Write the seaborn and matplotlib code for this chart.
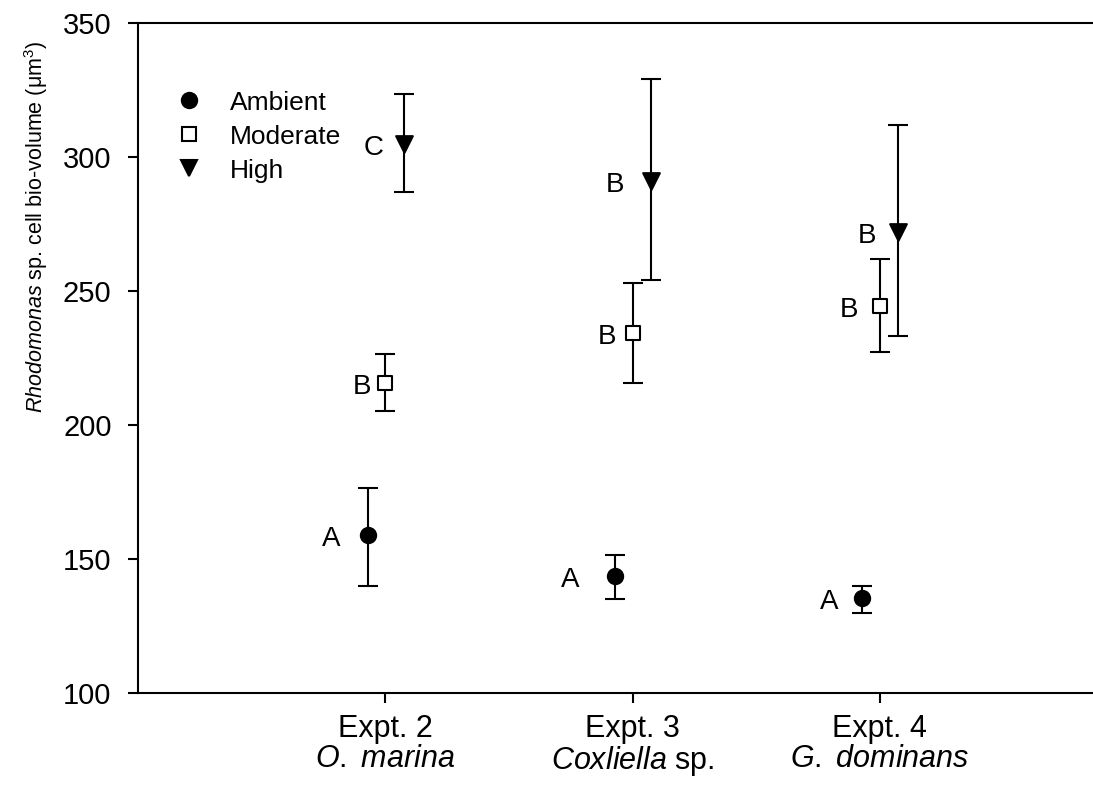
import numpy as np
import pandas as pd
import matplotlib
matplotlib.use("Agg")
import matplotlib.pyplot as plt
import seaborn as sns
from matplotlib.lines import Line2D

# ---- data ----
experiments = ["Expt. 2", "Expt. 3", "Expt. 4"]
species = [r"$\mathit{O.}$ $\mathit{marina}$", r"$\mathit{Coxliella}$ sp.", r"$\mathit{G.}$ $\mathit{dominans}$"]
treatments = ["Ambient", "Moderate", "High"]

ambient_mean = [159.0, 143.7, 135.6]
ambient_lo = [140.1, 135.0, 130.0]
ambient_hi = [176.6, 151.5, 140.0]

moderate_mean = [215.7, 234.5, 244.4]
moderate_lo = [205.2, 215.8, 227.1]
moderate_hi = [226.5, 253.0, 261.8]

high_mean = [305.0, 291.0, 272.0]
high_lo = [286.8, 254.1, 233.2]
high_hi = [323.4, 329.0, 312.0]

letters_ambient = ["A", "A", "A"]
letters_moderate = ["B", "B", "B"]
letters_high = ["C", "B", "B"]

# ---- layout / style ----
offsets = {"Ambient": -0.07, "Moderate": 0.0, "High": 0.075}
markers = {"Ambient": "o", "Moderate": "s", "High": "v"}
msize = {"Ambient": 11, "Moderate": 10, "High": 12}
faces = {"Ambient": "black", "Moderate": "white", "High": "black"}
letter_dx = {"Ambient": [-37, -45, -33], "Moderate": [-23, -25, -31], "High": [-30, -36, -31]}

sns.set_theme(style="ticks")
plt.rcParams["font.family"] = ["Liberation Sans", "DejaVu Sans"]
plt.rcParams["mathtext.fontset"] = "custom"
plt.rcParams["mathtext.rm"] = "Liberation Sans"
plt.rcParams["mathtext.it"] = "Liberation Sans:italic"
plt.rcParams["mathtext.bf"] = "Liberation Sans:bold"
for k in ["text.color", "axes.labelcolor", "xtick.color", "ytick.color", "axes.edgecolor"]:
    plt.rcParams[k] = "black"

rows = []
for t, m, lo, hi, lab in [
    ("Ambient", ambient_mean, ambient_lo, ambient_hi, letters_ambient),
    ("Moderate", moderate_mean, moderate_lo, moderate_hi, letters_moderate),
    ("High", high_mean, high_lo, high_hi, letters_high),
]:
    for i in range(len(experiments)):
        rows.append(dict(treatment=t, idx=i, exp=experiments[i], mean=m[i], lo=lo[i], hi=hi[i], letter=lab[i]))
df = pd.DataFrame(rows)
df["x"] = df["idx"] + 1 + df["treatment"].map(offsets)

W, H = 1093, 792
fig = plt.figure(figsize=(W / 100, H / 100), dpi=100)
ax = fig.add_axes([138 / W, (H - 693) / H, (1127 - 138) / W, 670 / H])

lw = 1.5
for t in treatments:
    sub = df[df["treatment"] == t]
    ax.errorbar(sub["x"], sub["mean"],
                yerr=[sub["mean"] - sub["lo"], sub["hi"] - sub["mean"]],
                fmt="none", ecolor="black", elinewidth=lw, capsize=7, capthick=lw, zorder=2)

for t in treatments:
    sub = df[df["treatment"] == t]
    sns.scatterplot(data=sub, x="x", y="mean", marker=markers[t], s=msize[t] ** 2,
                    color=faces[t], edgecolor="black", linewidth=1.5, ax=ax, zorder=3,
                    label=t, legend=False)

for t in treatments:
    sub = df[df["treatment"] == t].reset_index(drop=True)
    for j, r in sub.iterrows():
        ax.annotate(r["letter"], (r["x"], r["mean"]), xytext=(letter_dx[t][j] * 0.72, -3),
                    textcoords="offset points", ha="center", va="center", fontsize=20)

ax.set_xlim(0, 4)
ax.set_ylim(100, 350)
ax.set_yticks([100, 150, 200, 250, 300, 350])
ax.set_xticks([1, 2, 3])
ax.set_xticklabels([f"{e}\n{s}" for e, s in zip(experiments, species)], fontsize=22, linespacing=1.0)
ax.tick_params(axis="y", labelsize=21, length=7, width=lw, pad=12, direction="out")
ax.tick_params(axis="x", length=7, width=lw, pad=8, direction="out")
for s in ax.spines.values():
    s.set_linewidth(lw)
ax.set_xlabel("")
ax.set_ylabel("")

fig.text(36 / W, 1 - 227 / H, r"$\mathit{Rhodomonas}$ sp. cell bio-volume (μm$^3$)",
         rotation=90, ha="center", va="center", fontsize=15.5)

handles = [Line2D([], [], linestyle="none", marker=markers[t], markersize=msize[t],
                  markerfacecolor=faces[t], markeredgecolor="black", markeredgewidth=1.5)
           for t in treatments]
leg = ax.legend(handles, treatments, loc="upper left", bbox_to_anchor=(25 / 989, 1 - 57 / 670),
                frameon=False, fontsize=19, handletextpad=0.95, labelspacing=0.38,
                borderaxespad=0, handlelength=1.2)

fig.savefig("out.png", dpi=100)
